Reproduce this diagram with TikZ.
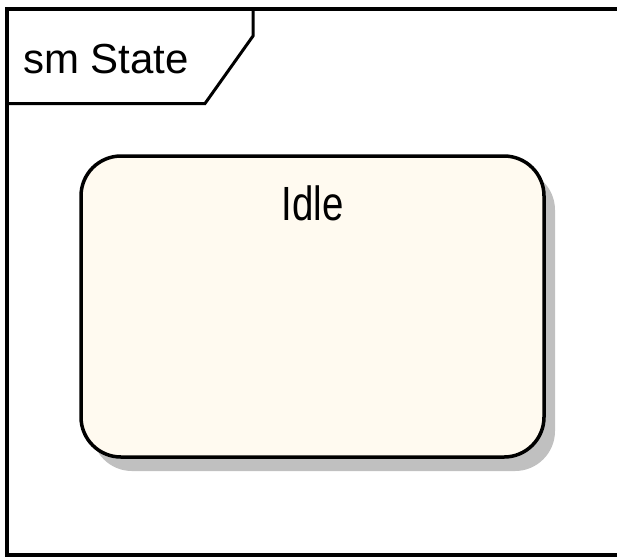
\documentclass[tikz,border=0pt]{standalone}
\usepackage{fontspec}
\setmainfont{Liberation Sans}
\usetikzlibrary{math}
\definecolor{statefill}{RGB}{255,250,240}
\definecolor{shadowgray}{RGB}{192,192,192}

\begin{document}
\begin{tikzpicture}[x=1pt,y=-1pt]
\tikzmath{
\W=617;
\H=558;
\bx=81;
\by=156;
\bw=463;
\bh=301;
}
\useasboundingbox (0,0) rectangle (\W,\H);

% frame and tab
\draw[line width=4] (\W+5,8.5) -- (7,8.5) -- (7,555) -- (\W+5,555);
\draw[line width=3] (7,103.5) -- (205,103.5) -- (253,36) -- (253,8.5);
\node[anchor=base west, inner sep=0, font=\fontsize{42}{42}\selectfont] (title) at (23,73) {sm State};

% state with shadow
\fill[shadowgray, rounded corners=40pt] (\bx+11,\by+14) rectangle +(\bw,\bh);
\filldraw[fill=statefill, line width=3.5, rounded corners=40pt] (\bx,\by) rectangle +(\bw,\bh);
\node[anchor=base, inner sep=0, xscale=0.8, font=\fontsize{48}{48}\selectfont] (idle) at (312.5,220) {Idle};
\end{tikzpicture}
\end{document}
